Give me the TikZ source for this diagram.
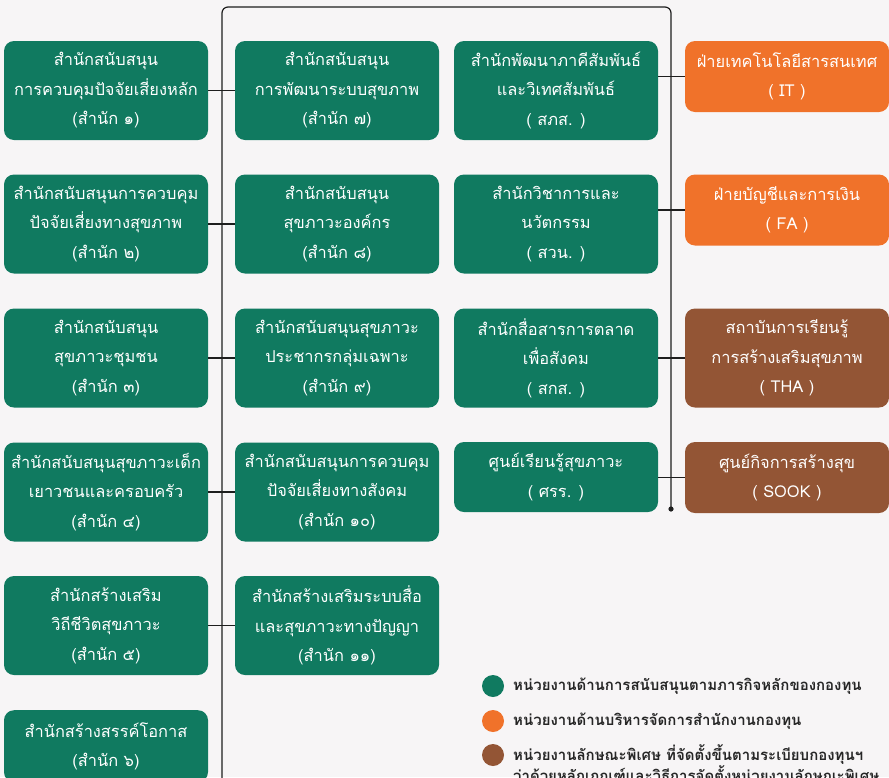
\documentclass[tikz,border=0pt]{standalone}
\usepackage{fontspec}
\newfontfamily\thai[Script=Thai]{Loma}
\definecolor{bgpaper}{HTML}{F7F5F6}
\definecolor{unitgreen}{HTML}{107A60}
\definecolor{unitorange}{HTML}{F0722A}
\definecolor{unitbrown}{HTML}{935535}
\definecolor{linkline}{HTML}{1E1E1E}
\tikzset{
  unit/.style={rounded corners=10pt, minimum width=204pt, minimum height=99pt,
    inner sep=0pt, text=white, align=center,
    font=\thai\fontsize{16.4}{29.5}\selectfont},
  greenunit/.style={unit, fill=unitgreen},
  orangeunit/.style={unit, fill=unitorange, minimum height=71pt},
  brownunit/.style={unit, fill=unitbrown},
  link/.style={draw=linkline, line width=1.2pt},
  keydot/.style={circle, minimum size=22pt, inner sep=0pt},
  keytext/.style={anchor=west, inner sep=0pt, text=black!85,
    font=\thai\bfseries\fontsize{15}{21}\selectfont}
}
\begin{document}
\begin{tikzpicture}[x=1pt,y=-1pt]
\clip (0,0) rectangle (889,777);
\fill[bgpaper] (0,0) rectangle (889,777);
% spine
\coordinate (spinel) at (222,7);
\coordinate (spiner) at (671,7);
\coordinate (spineend) at (671,509);
\draw[link, rounded corners=6pt] (222,790) -- (spinel) -- (spiner) -- (spineend);
\fill[linkline] (spineend) circle (2.6);
% first column
\node[greenunit] (sn1) at (106,90.5) {สำนักสนับสนุน\\การควบคุมปัจจัยเสี่ยงหลัก\\(สำนัก ๑)};
\node[greenunit] (sn2) at (106,224) {สำนักสนับสนุนการควบคุม\\ปัจจัยเสี่ยงทางสุขภาพ\\(สำนัก ๒)};
\node[greenunit] (sn3) at (106,358) {สำนักสนับสนุน\\สุขภาวะชุมชน\\(สำนัก ๓)};
\node[greenunit] (sn4) at (106,492) {สำนักสนับสนุนสุขภาวะเด็ก\\เยาวชนและครอบครัว\\(สำนัก ๔)};
\node[greenunit] (sn5) at (106,625.5) {สำนักสร้างเสริม\\วิถีชีวิตสุขภาวะ\\(สำนัก ๕)};
\node[greenunit, minimum height=72pt, anchor=north] (sn6) at (106,710) {สำนักสร้างสรรค์โอกาส\\(สำนัก ๖)};
% second column
\node[greenunit] (sn7) at (337,90.5) {สำนักสนับสนุน\\การพัฒนาระบบสุขภาพ\\(สำนัก ๗)};
\node[greenunit] (sn8) at (337,224) {สำนักสนับสนุน\\สุขภาวะองค์กร\\(สำนัก ๘)};
\node[greenunit] (sn9) at (337,358) {สำนักสนับสนุนสุขภาวะ\\ประชากรกลุ่มเฉพาะ\\(สำนัก ๙)};
\node[greenunit] (sn10) at (337,492) {สำนักสนับสนุนการควบคุม\\ปัจจัยเสี่ยงทางสังคม\\(สำนัก ๑๐)};
\node[greenunit] (sn11) at (337,625.5) {สำนักสร้างเสริมระบบสื่อ\\และสุขภาวะทางปัญญา\\(สำนัก ๑๑)};
% third column
\node[greenunit] (spr) at (556,90.5) {สำนักพัฒนาภาคีสัมพันธ์\\และวิเทศสัมพันธ์\\( สภส. )};
\node[greenunit] (svn) at (556,224) {สำนักวิชาการและ\\นวัตกรรม\\( สวน. )};
\node[greenunit] (skm) at (556,358) {สำนักสื่อสารการตลาด\\เพื่อสังคม\\( สกส. )};
\node[greenunit, minimum height=70pt] (srr) at (556,477) {ศูนย์เรียนรู้สุขภาวะ\\( ศรร. )};
% fourth column
\node[orangeunit] (it) at (787,76.5) {ฝ่ายเทคโนโลยีสารสนเทศ\\( IT )};
\node[orangeunit] (fa) at (787,210) {ฝ่ายบัญชีและการเงิน\\( FA )};
\node[brownunit] (tha) at (787,358) {สถาบันการเรียนรู้\\การสร้างเสริมสุขภาพ\\( THA )};
\node[brownunit, minimum height=71pt] (sook) at (787,477.5) {ศูนย์กิจการสร้างสุข\\( SOOK )};
% connectors
\foreach \a/\b in {sn1/sn7, sn2/sn8, sn3/sn9, sn4/sn10, sn5/sn11}
  \draw[link] (\a.east) -- (\b.west);
\foreach \a/\b in {spr/it, svn/fa, skm/tha, srr/sook}
  \draw[link] (\b.west -| \a.east) -- (\b.west);
% legend
\node[keydot, fill=unitgreen] (k1) at (493,686) {};
\node[keydot, fill=unitorange] (k2) at (493,721) {};
\node[keydot, fill=unitbrown] (k3) at (493,755) {};
\node[keytext] (t1) at (513,686) {หน่วยงานด้านการสนับสนุนตามภารกิจหลักของกองทุน};
\node[keytext] (t2) at (513,721) {หน่วยงานด้านบริหารจัดการสำนักงานกองทุน};
\node[keytext, align=left, anchor=north west] (t3) at (513,744) {หน่วยงานลักษณะพิเศษ ที่จัดตั้งขึ้นตามระเบียบกองทุนฯ\\ว่าด้วยหลักเกณฑ์และวิธีการจัดตั้งหน่วยงานลักษณะพิเศษ};
\end{tikzpicture}
\end{document}
